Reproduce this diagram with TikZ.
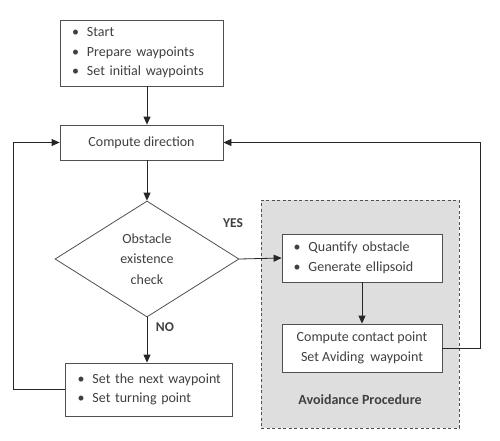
\documentclass[tikz,border=0pt]{standalone}
\usepackage{fontspec}
\setmainfont{Carlito}
\usetikzlibrary{arrows.meta,shapes.geometric}
\definecolor{txt}{HTML}{404040}
\definecolor{edge}{HTML}{505050}
\definecolor{regionfill}{HTML}{DEDEDE}
\newcommand{\bl}[1]{\mbox{\makebox[15pt][l]{\textbullet}#1}}
\begin{document}
\begin{tikzpicture}[x=1pt,y=-1pt,
  font=\fontsize{14}{19.5}\selectfont, text=txt,
  box/.style={draw=edge, line width=0.8pt, fill=white, inner sep=0pt, align=center},
  blist/.style={box, align=left, inner xsep=12pt, inner ysep=0pt},
  conn/.style={draw=black!85, line width=0.8pt},
  arr/.style={conn, -{Triangle[length=8pt,width=7pt]}},
  lbl/.style={font=\fontsize{13.5}{16}\selectfont\bfseries, text=txt}]
\useasboundingbox (0,0) rectangle (500,440);
% region
\node[draw=edge, dashed, dash pattern=on 3pt off 2.5pt, line width=0.8pt, fill=regionfill,
  minimum width=198pt, minimum height=228pt, inner sep=0pt] (region) at (360,314) {};
\node[lbl, font=\fontsize{14}{16}\selectfont\bfseries] (avtitle) at (360,400) {Avoidance Procedure};
% nodes
\node[blist, text width=139pt, minimum height=66pt] (top) at (141.5,53)
  {\bl{Start}\\ \bl{Prepare waypoints}\\ \bl{Set initial waypoints}};
\node[box, minimum width=163pt, minimum height=35pt] (comp) at (141.5,142.5) {Compute direction};
\node[draw=edge, line width=0.8pt, fill=white, shape=diamond, aspect=1.6, inner sep=0pt,
  minimum width=184pt, minimum height=116pt, align=center, font=\fontsize{14}{20.5}\selectfont] (dia) at (147,259)
  {Obstacle\\ existence\\ check};
\node[blist, text width=137pt, inner xsep=11.5pt, minimum height=48pt] (quant) at (362,258)
  {\bl{Quantify obstacle}\\ \bl{Generate ellipsoid}};
\node[box, minimum width=160pt, minimum height=48pt] (contact) at (362,348)
  {Compute contact point\\ Set Aviding\ \ waypoint};
\node[blist, text width=142pt, inner xsep=12.5pt, minimum height=53pt] (bot) at (148.5,389.5)
  {\bl{Set the next waypoint}\\ \bl{Set turning point}};
% labels
\node[lbl] (yes) at (233,223) {YES};
\node[lbl] (no) at (165,327) {NO};
% connectors
\draw[arr] (top.south -| dia.north) -- (comp.north -| dia.north);
\draw[arr] (comp.south -| dia.north) -- (dia.north);
\draw[arr] (dia.east) -- (quant.west);
\draw[arr] (quant.south) -- (contact.north);
\draw[arr] (dia.south) -- (dia.south |- bot.north);
\draw[arr] (contact.east) -- ++(38,0) |- (comp.east);
\draw[arr] (bot.west) -- ++(-51,0) |- (comp.west);
\end{tikzpicture}
\end{document}
